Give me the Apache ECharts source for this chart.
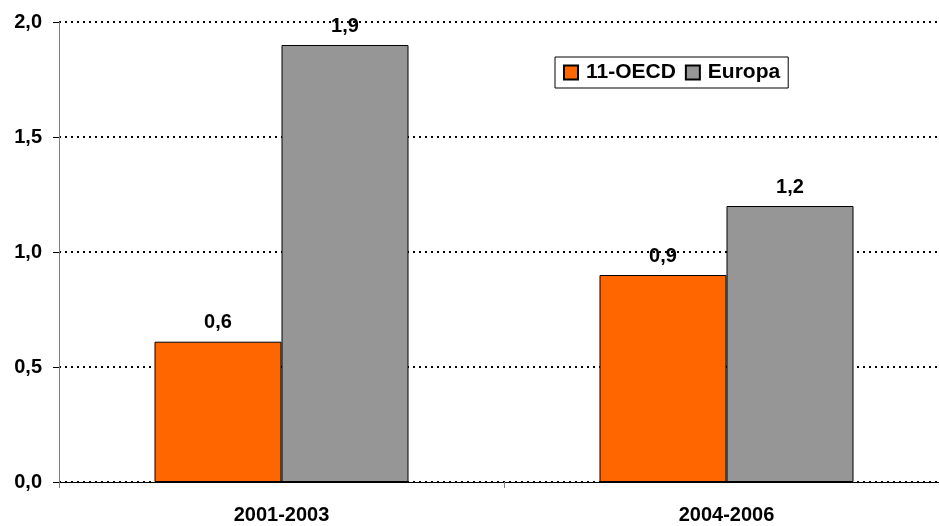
<!DOCTYPE html>
<html>
<head>
<meta charset="utf-8">
<script src="https://cdn.jsdelivr.net/npm/echarts@6/dist/echarts.min.js"></script>
<style>
  html, body { margin: 0; padding: 0; background: #fff; overflow: hidden; }
  #main { width: 949px; height: 526px; }
</style>
</head>
<body>
<div id="main"></div>
<script>
// data
var categories = ['2001-2003', '2004-2006'];
var oecd = [0.61, 0.9];
var europa = [1.9, 1.2];
var yTicks = [0, 0.5, 1.0, 1.5, 2.0];

var chart = echarts.init(document.getElementById('main'));

function fmt(v) {
    return v.toFixed(1).replace('.', ',');
}

var font = 'Liberation Sans, Arial, sans-serif';

chart.setOption({
    animation: false,
    textStyle: { fontFamily: font },
    grid: { left: 59, top: 22, right: 0, bottom: 44 },
    legend: {
        data: ['11-OECD', 'Europa'],
        left: 555,
        top: 57,
        itemWidth: 14,
        itemHeight: 14,
        itemGap: 9,
        padding: [5, 8, 5, 8],
        borderColor: '#000',
        borderWidth: 1,
        icon: 'rect',
        textStyle: { fontSize: 21, fontWeight: 'bold', color: '#000', fontFamily: font, padding: [0, 0, 0, 3] }
    },
    xAxis: {
        type: 'category',
        data: categories,
        axisLine: { lineStyle: { color: '#000', width: 1 } },
        axisTick: { show: true, length: 6, lineStyle: { color: '#808080' } },
        axisLabel: { fontSize: 20, fontWeight: 'bold', color: '#000', margin: 23 }
    },
    yAxis: {
        type: 'value',
        min: yTicks[0],
        max: yTicks[yTicks.length - 1],
        interval: 0.5,
        axisLine: { show: true, lineStyle: { color: '#808080', width: 1 } },
        axisTick: { show: true, length: 6, lineStyle: { color: '#000' } },
        axisLabel: {
            fontSize: 20, fontWeight: 'bold', color: '#000', margin: 17,
            formatter: function (v) { return fmt(v); }
        },
        splitLine: { show: true, lineStyle: { color: '#000', type: [2, 4], width: 2 } }
    },
    series: [
        {
            name: '11-OECD',
            type: 'bar',
            data: oecd,
            barWidth: 127,
            barGap: '0%',
            itemStyle: { color: '#FF6600', borderColor: '#000', borderWidth: 1 },
            label: {
                show: true, position: 'top', distance: 9,
                fontSize: 20, fontWeight: 'bold', color: '#000',
                formatter: function (p) { return fmt(p.value); }
            }
        },
        {
            name: 'Europa',
            type: 'bar',
            data: europa,
            barWidth: 127,
            barGap: '0%',
            itemStyle: { color: '#969696', borderColor: '#000', borderWidth: 1 },
            label: {
                show: true, position: 'top', distance: 9,
                fontSize: 20, fontWeight: 'bold', color: '#000',
                formatter: function (p) { return fmt(p.value); }
            }
        }
    ]
});
</script>
</body>
</html>
